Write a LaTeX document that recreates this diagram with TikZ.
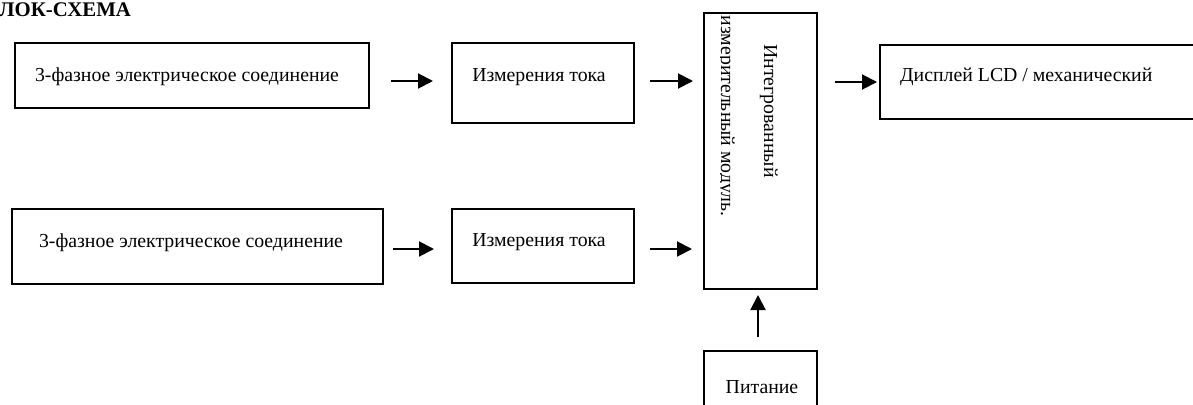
\documentclass[tikz,border=0pt]{standalone}
\usepackage{fontspec}
\setmainfont{Liberation Serif}
\usetikzlibrary{arrows.meta}
\begin{document}
\begin{tikzpicture}[x=1pt,y=-1pt,
  box/.style={draw, line width=1.8pt, inner sep=0pt, anchor=north west},
  lbl/.style={font=\fontsize{19.8}{23}\selectfont, inner sep=0pt},
  arr/.style={line width=2pt, -{Triangle[length=15pt,width=15pt]}}]
\useasboundingbox (0,0) rectangle (1193,404);
% title
\node[lbl, font=\fontsize{20.8}{24}\selectfont\bfseries, anchor=base west] (title) at (-1,17) {ЛОК-СХЕМА};
% boxes
\node[box, minimum width=354pt, minimum height=65pt] (b1) at (14,42) {};
\node[box, minimum width=182pt, minimum height=80pt] (b2) at (451,42) {};
\node[box, minimum width=371pt, minimum height=75pt] (b3) at (11,208) {};
\node[box, minimum width=182pt, minimum height=74pt] (b4) at (451,208) {};
\node[box, minimum width=113pt, minimum height=276pt] (mod) at (703,12) {};
\node[box, minimum width=330pt, minimum height=74pt] (disp) at (879,44) {};
\node[box, minimum width=113pt, minimum height=70pt] (pwr) at (703,350) {};
% texts
\node[lbl] (t1) at (187,77) {3-фазное электрическое соединение};
\node[lbl] (t2) at (539,77) {Измерения тока};
\node[lbl] (t3) at (191,243) {3-фазное электрическое соединение};
\node[lbl] (t4) at (539,242) {Измерения тока};
\node[lbl, anchor=west] (t5) at (900,77) {Дисплей LCD / механический};
\node[lbl, rotate=-90, anchor=base] (m1) at (764,111) {Интегрованный};
\begin{scope}
\clip (720,12) rectangle (816,288);
\node[lbl, rotate=-90, anchor=base] (m2) at (721,116) {измерительный модуль.};
\end{scope}
\node[lbl] (pw) at (762,387) {Питание};
% arrow endpoints
\coordinate (a1s) at (391,81); \coordinate (a1e) at (433,81);
\coordinate (a2s) at (650,81); \coordinate (a2e) at (693,81);
\coordinate (a3s) at (393,249); \coordinate (a3e) at (434,249);
\coordinate (a4s) at (650,249); \coordinate (a4e) at (692,249);
\coordinate (a5s) at (835,82); \coordinate (a5e) at (877,82);
\coordinate (a6s) at (758,337); \coordinate (a6e) at (758,295);
\draw[arr] (a1s) -- (a1e);
\draw[arr] (a2s) -- (a2e);
\draw[arr] (a3s) -- (a3e);
\draw[arr] (a4s) -- (a4e);
\draw[arr] (a5s) -- (a5e);
\draw[arr] (a6s) -- (a6e);
\end{tikzpicture}
\end{document}
